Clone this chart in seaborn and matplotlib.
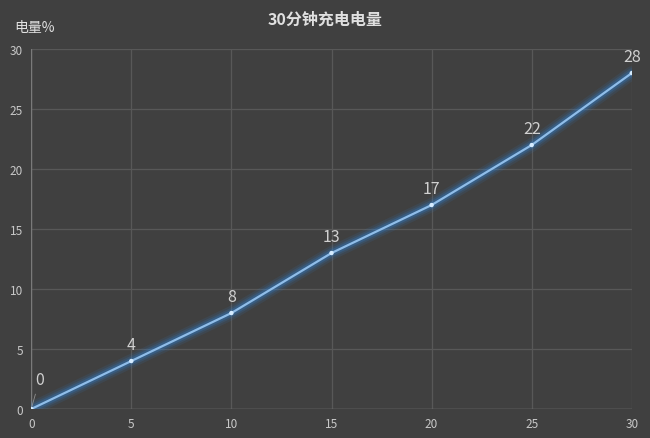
import numpy as np
import pandas as pd
import seaborn as sns
from matplotlib import pyplot as plt

minutes = [0, 5, 10, 15, 20, 25, 30]
charge = [0, 4, 8, 13, 17, 22, 28]
x_ticks = [0, 5, 10, 15, 20, 25, 30]
y_ticks = [0, 5, 10, 15, 20, 25, 30]
title = '30分钟充电电量'
ylabel = '电量%'

df = pd.DataFrame({'minutes': minutes, 'charge': charge})

sns.set_style('dark')
plt.rcParams['font.family'] = ['Noto Sans CJK SC', 'DejaVu Sans']

bg = '#404040'
fig = plt.figure(figsize=(6.5, 4.39), dpi=100, facecolor=bg)
ax = fig.add_axes([0.048, 0.066, 0.924, 0.82])
ax.set_facecolor(bg)

# glow around the line
for lw, a in [(10, 0.1), (7, 0.15), (4.5, 0.25)]:
    sns.lineplot(data=df, x='minutes', y='charge', ax=ax, color='#2f86e0',
                 linewidth=lw, alpha=a, legend=False)
sns.lineplot(data=df, x='minutes', y='charge', ax=ax, color='#8fbde9',
             linewidth=1.6, legend=False)
sns.scatterplot(data=df, x='minutes', y='charge', ax=ax, color='#d6ecff',
                s=10, edgecolor='none', zorder=5)

for xv, yv in zip(minutes, charge):
    if xv == 0:
        ax.annotate(str(yv), (xv, yv), xytext=(6, 15), textcoords='offset points',
                    ha='center', va='bottom', color='#d0d0d0', fontsize=11.5,
                    arrowprops=dict(arrowstyle='-', color='#909090', lw=0.6))
    else:
        ax.annotate(str(yv), (xv, yv), xytext=(0, 6), textcoords='offset points',
                    ha='center', va='bottom', color='#d0d0d0', fontsize=11.5)

ax.set_xlim(0, 30)
ax.set_ylim(0, 30)
ax.set_xticks(x_ticks)
ax.set_yticks(y_ticks)
ax.grid(True, color='#585858', linewidth=0.9)
ax.set_axisbelow(True)
for s in ax.spines.values():
    s.set_visible(False)
ax.axhline(0, color='#7a7a7a', linewidth=1, zorder=1)
ax.axvline(0, color='#7a7a7a', linewidth=1, zorder=1)
ax.tick_params(colors='#c8c8c8', labelsize=8.5, length=0, pad=6)
ax.set_xlabel('')
ax.set_ylabel('')

fig.text(0.5, 0.955, title, ha='center', va='center', color='#e0e0e0',
         fontsize=11.5, fontweight='bold')
fig.text(0.022, 0.937, ylabel, ha='left', va='center', color='#e0e0e0',
         fontsize=10)

fig.savefig('out.png', dpi=100, facecolor=bg)
